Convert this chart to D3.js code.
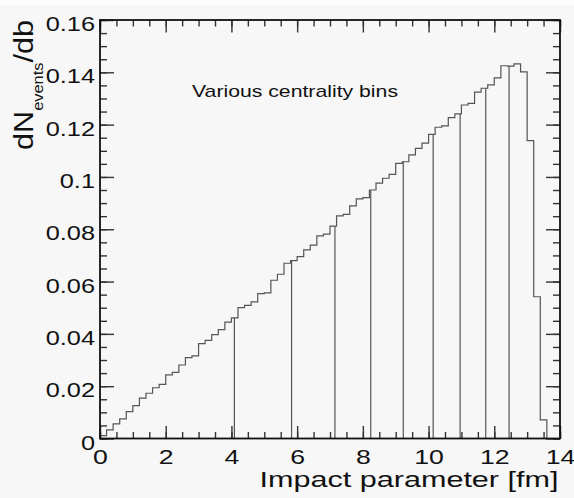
<!DOCTYPE html>
<html>
<head>
<meta charset="utf-8">
<script src="https://cdn.jsdelivr.net/npm/d3@7"></script>
<style>
  body { margin: 0; background: #f7f7f7; }
  svg { display: block; }
  text { font-family: "Liberation Sans", Arial, Helvetica, sans-serif; fill: #111; }
</style>
</head>
<body>
<div id="chart"></div>
<script>
// histogram of impact parameter, 0.2 fm bins from 0 to 14 fm
const binStart = 0;
const binWidth = 0.2;
const binValues = [
  0.0011, 0.0033, 0.0056, 0.0075, 0.0103, 0.0126, 0.0154, 0.0173, 0.0194, 0.0207,
  0.0243, 0.0253, 0.0281, 0.0309, 0.0316, 0.0363, 0.0375, 0.0397, 0.0416, 0.0445,
  0.0461, 0.0500, 0.0509, 0.0522, 0.0554, 0.0557, 0.0605, 0.0628, 0.0670, 0.0680,
  0.0695, 0.0721, 0.0739, 0.0775, 0.0781, 0.0812, 0.0851, 0.0857, 0.0889, 0.0916,
  0.0921, 0.0950, 0.0976, 0.0995, 0.1010, 0.1052, 0.1058, 0.1084, 0.1109, 0.1129,
  0.1163, 0.1190, 0.1195, 0.1227, 0.1241, 0.1275, 0.1281, 0.1324, 0.1339, 0.1352,
  0.1379, 0.1425, 0.1424, 0.1432, 0.1402, 0.1139, 0.0542, 0.0071, 0, 0
];

// centrality bin boundaries (fm)
const centralityCuts = [4.09, 5.83, 7.15, 8.24, 9.23, 10.14, 10.96, 11.74, 12.45];

const xTicks = [0, 2, 4, 6, 8, 10, 12, 14];
const yTicks = [0, 0.02, 0.04, 0.06, 0.08, 0.1, 0.12, 0.14, 0.16];

const width = 574;
const height = 498;
const margin = { top: 20, right: 14, bottom: 59.5, left: 100 };

const svg = d3.select('#chart')
  .append('svg')
    .attr('width', width)
    .attr('height', height);

svg.append('rect')
    .attr('width', width)
    .attr('height', height)
    .attr('fill', '#f7f7f7');
svg.append('rect')
    .attr('width', width)
    .attr('height', 5)
    .attr('fill', '#fcfcfc');

const x = d3.scaleLinear()
  .domain([0, 14])
  .range([margin.left, width - margin.right]);

const y = d3.scaleLinear()
  .domain([0, 0.16])
  .range([height - margin.bottom, margin.top]);

// step outline of the histogram
const steps = [[binStart, 0]];
binValues.forEach((v, i) => {
  const lo = binStart + i * binWidth;
  steps.push([lo, v]);
  steps.push([lo + binWidth, v]);
});

const line = d3.line()
  .x(d => x(d[0]))
  .y(d => y(d[1]));

svg.append('path')
    .datum(steps)
    .attr('d', line)
    .attr('fill', 'none')
    .attr('stroke', '#555')
    .attr('stroke-width', 1.2);

// vertical lines marking the centrality bins, up to the histogram
const valueAt = b => binValues[Math.floor((b - binStart) / binWidth)];

svg.selectAll('.cut')
  .data(centralityCuts)
  .join('line')
    .attr('class', 'cut')
    .attr('x1', d => x(d))
    .attr('x2', d => x(d))
    .attr('y1', y(0))
    .attr('y2', d => y(valueAt(d)))
    .attr('stroke', '#555')
    .attr('stroke-width', 1.2);

// ticks point inwards on all four sides (ROOT style)
const innerW = width - margin.left - margin.right;
const innerH = height - margin.top - margin.bottom;
const xMinor = d3.range(0, 14.01, 0.5);
const yMinor = d3.range(0, 0.1601, 0.005);

function tickAxis(axis, tx, ty) {
  const g = svg.append('g')
      .attr('transform', `translate(${tx},${ty})`)
      .call(axis);
  g.select('.domain').remove();
  g.selectAll('line').attr('stroke', '#333').attr('stroke-width', 1.4);
  return g;
}

tickAxis(d3.axisBottom(x).tickValues(xMinor).tickSize(-6.5).tickFormat(''), 0, y(0));
tickAxis(d3.axisTop(x).tickValues(xMinor).tickSize(-6.5).tickFormat(''), 0, y(0.16));
tickAxis(d3.axisTop(x).tickValues(xTicks).tickSize(-12.5).tickFormat(''), 0, y(0.16));
tickAxis(d3.axisLeft(y).tickValues(yMinor).tickSize(-7).tickFormat(''), x(0), 0);
tickAxis(d3.axisRight(y).tickValues(yMinor).tickSize(-7).tickFormat(''), x(14), 0);
tickAxis(d3.axisRight(y).tickValues(yTicks).tickSize(-14).tickFormat(''), x(14), 0);

const fmt = d3.format('~g');
const xAxis = tickAxis(d3.axisBottom(x).tickValues(xTicks).tickSize(-12.5).tickPadding(0).tickFormat(fmt), 0, y(0));
const yAxis = tickAxis(d3.axisLeft(y).tickValues(yTicks).tickSize(-14).tickPadding(0).tickFormat(fmt), x(0), 0);

// widen the glyphs a bit, like the original picture
function stretch(sel, k) {
  sel.each(function() {
    const w = this.getComputedTextLength();
    d3.select(this)
      .attr('textLength', w * k)
      .attr('lengthAdjust', 'spacingAndGlyphs');
  });
}

xAxis.selectAll('text')
    .attr('y', 25)
    .attr('dy', 0)
    .attr('font-size', 20.5)
    .attr('fill', '#111')
    .call(stretch, 1.3);

yAxis.selectAll('text')
    .attr('x', -5)
    .attr('dy', 0)
    .attr('y', 10.5)
    .attr('font-size', 19.5)
    .attr('fill', '#111')
    .call(stretch, 1.3);

// frame
svg.append('rect')
    .attr('x', x(0))
    .attr('y', y(0.16))
    .attr('width', innerW)
    .attr('height', innerH)
    .attr('fill', 'none')
    .attr('stroke', '#111')
    .attr('stroke-width', 1.8);

// axis titles
svg.append('text')
    .attr('x', 558.5)
    .attr('y', 486.5)
    .attr('text-anchor', 'end')
    .attr('font-size', 21.5)
    .attr('textLength', 299)
    .attr('lengthAdjust', 'spacingAndGlyphs')
    .text('Impact parameter [fm]');

const yTitle = svg.append('text')
    .attr('font-size', 28);
yTitle.append('tspan').text('dN');
yTitle.append('tspan')
    .attr('font-size', 15)
    .attr('dy', 10)
    .text('events');
yTitle.append('tspan')
    .attr('dy', -10)
    .text('/db');
const yTitleLen = yTitle.node().getComputedTextLength();
yTitle.attr('transform', `translate(33,150) rotate(-90) scale(${130 / yTitleLen},1)`);

svg.append('text')
    .attr('x', 192)
    .attr('y', 96.5)
    .attr('font-size', 17)
    .attr('textLength', 206)
    .attr('lengthAdjust', 'spacingAndGlyphs')
    .text('Various centrality bins');
</script>
</body>
</html>
